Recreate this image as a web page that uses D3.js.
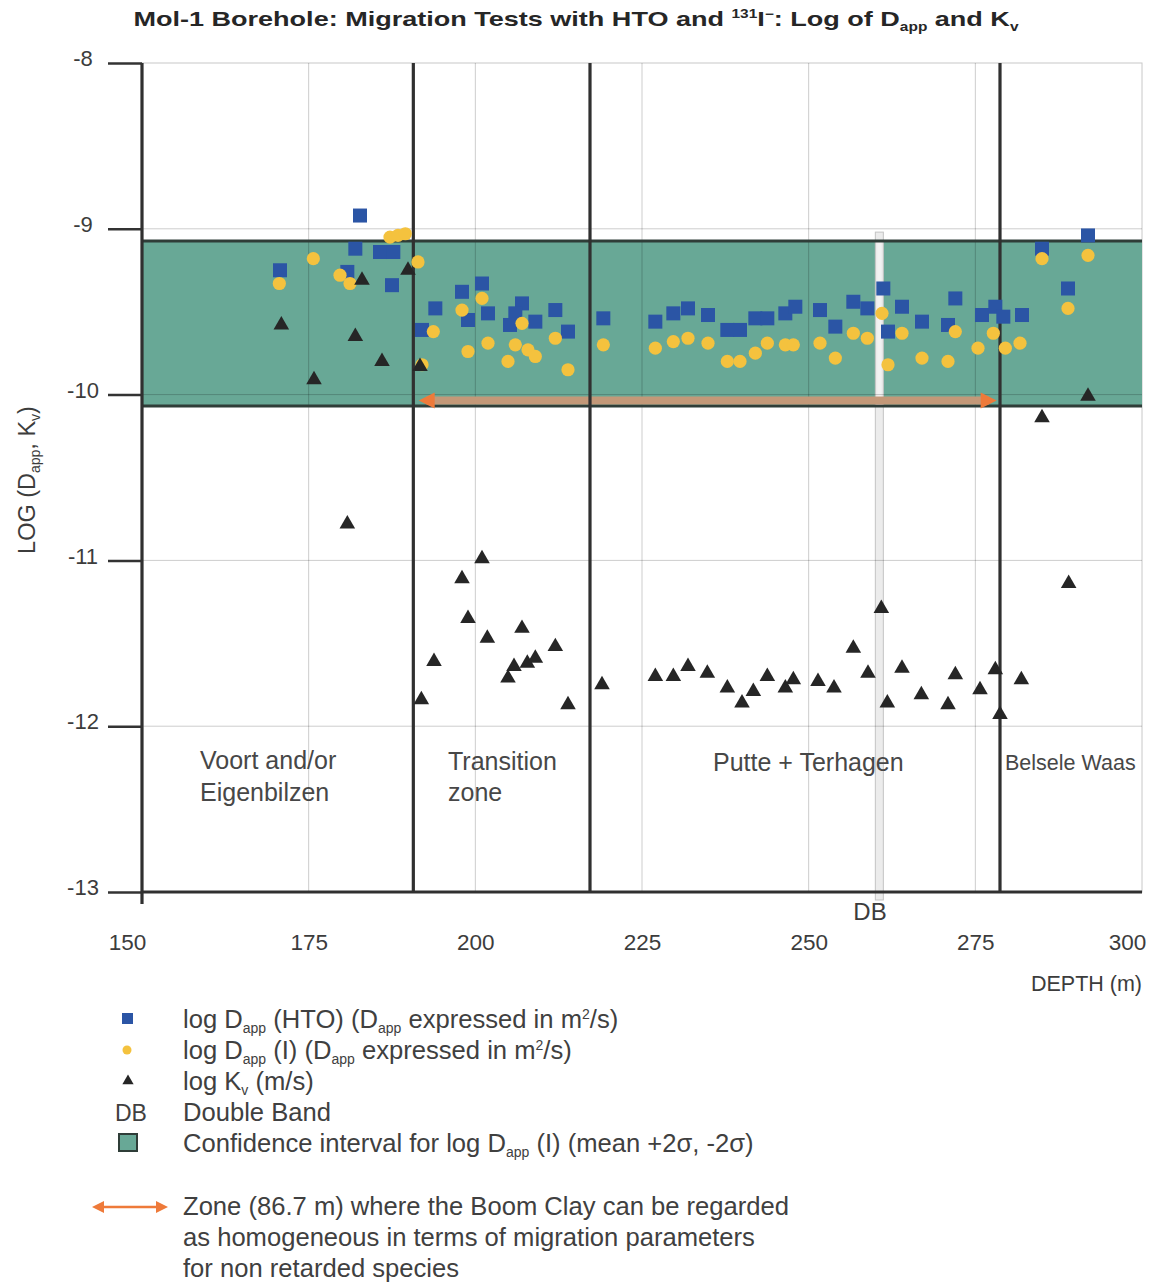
<!DOCTYPE html>
<html><head><meta charset="utf-8">
<script src="https://cdn.jsdelivr.net/npm/d3@7"></script>
<style>
body{margin:0;background:#fff}
text{font-family:"Liberation Sans",Arial,Helvetica,sans-serif}
</style>
</head><body>
<svg id="chart" width="1152" height="1283"></svg>
<script>
// ---------- DATA ----------
const xTicks = [150, 175, 200, 225, 250, 275, 300];
const yTicks = [-8, -9, -10, -11, -12, -13];

const htoDepth = [170.7,182.7,182.0,180.8,185.7,187.7,187.5,194.0,192.0,198.0,201.0,198.9,201.9,207.0,206.0,205.2,209.0,212.0,213.9,219.2,227.0,229.7,231.9,234.9,237.8,239.7,242.0,243.8,246.5,248.0,251.7,254.0,256.7,258.8,261.2,261.9,264.0,267.0,270.9,272.0,276.0,278.0,279.2,282.0,285.0,288.9,291.9];
const htoLog   = [-9.25,-8.92,-9.12,-9.26,-9.14,-9.14,-9.34,-9.48,-9.61,-9.38,-9.33,-9.55,-9.51,-9.45,-9.51,-9.58,-9.56,-9.49,-9.62,-9.54,-9.56,-9.51,-9.48,-9.52,-9.61,-9.61,-9.54,-9.54,-9.51,-9.47,-9.49,-9.59,-9.44,-9.48,-9.36,-9.62,-9.47,-9.56,-9.58,-9.42,-9.52,-9.47,-9.53,-9.52,-9.12,-9.36,-9.04];

const iDepth = [170.6,175.7,179.7,181.2,187.2,188.4,189.5,191.4,192.0,193.7,198.0,201.0,198.9,201.9,207.0,206.0,207.9,209.0,204.9,212.0,213.9,219.2,227.0,229.7,231.9,234.9,237.8,239.7,242.0,243.8,246.5,247.7,251.7,254.0,256.7,258.8,261.0,261.9,264.0,267.0,270.9,272.0,275.4,277.7,279.5,281.7,285.0,288.9,291.9];
const iLog   = [-9.33,-9.18,-9.28,-9.33,-9.05,-9.04,-9.03,-9.20,-9.82,-9.62,-9.49,-9.42,-9.74,-9.69,-9.57,-9.70,-9.73,-9.77,-9.80,-9.66,-9.85,-9.70,-9.72,-9.68,-9.66,-9.69,-9.80,-9.80,-9.75,-9.69,-9.70,-9.70,-9.69,-9.78,-9.63,-9.66,-9.51,-9.82,-9.63,-9.78,-9.80,-9.62,-9.72,-9.63,-9.72,-9.69,-9.18,-9.48,-9.16];

const kvDepth = [170.9,175.8,182.0,183.0,186.0,189.9,191.7,180.8,191.9,193.8,198.0,201.0,198.9,201.8,204.9,205.8,207.8,209.0,207.0,212.0,213.9,219.0,227.0,229.7,231.9,234.8,237.8,240.0,241.7,243.8,246.5,247.7,251.4,253.8,256.7,258.9,260.9,261.8,264.0,266.9,270.9,272.0,275.7,278.0,278.7,281.9,285.0,289.0,291.9];
const kvLog   = [-9.58,-9.91,-9.65,-9.31,-9.80,-9.25,-9.83,-10.78,-11.84,-11.61,-11.11,-10.99,-11.35,-11.47,-11.71,-11.64,-11.62,-11.59,-11.41,-11.52,-11.87,-11.75,-11.70,-11.70,-11.64,-11.68,-11.77,-11.86,-11.79,-11.70,-11.77,-11.72,-11.73,-11.77,-11.53,-11.68,-11.29,-11.86,-11.65,-11.81,-11.87,-11.69,-11.78,-11.66,-11.93,-11.72,-10.14,-11.14,-10.01];

const zoneBounds = [190.7, 217.2, 278.7];
const bandLimits = [-9.074, -10.069];      // confidence interval (mean +2σ, -2σ)
const homogeneousZone = [191.5, 278.2];    // 86.7 m
const doubleBand = [260.0, 261.2];

// ---------- CHART ----------
const svg = d3.select("#chart");
const x = d3.scaleLinear().domain([150, 300]).range([142, 1142]);
const y = d3.scaleLinear().domain([-13, -8]).range([892, 63]);

const BLUE = "#2b55a5", YELLOW = "#f4c23e", TRI = "#262626", BAND = "#68a896", BANDLINE = "#2f3d38", ORANGE = "#ee7a3a";
const TXT = "#3c3c3c";

// title
const title = svg.append("text").attr("x", 576).attr("y", 26).attr("text-anchor", "middle")
  .attr("font-size", 21).attr("font-weight", "bold").attr("fill", "#262626")
  .attr("textLength", 885).attr("lengthAdjust", "spacingAndGlyphs");
title.append("tspan").text("Mol-1 Borehole: Migration Tests with HTO and ");
title.append("tspan").text("131").attr("font-size", 12).attr("dy", -8);
title.append("tspan").text("I").attr("dy", 8);
title.append("tspan").text("−").attr("font-size", 12).attr("dy", -8);
title.append("tspan").text(": Log of D").attr("dy", 8);
title.append("tspan").text("app").attr("font-size", 12).attr("dy", 5);
title.append("tspan").text(" and K").attr("dy", -5);
title.append("tspan").text("v").attr("font-size", 12).attr("dy", 5);

// frame (top, right)
svg.append("rect").attr("x", x(150)).attr("y", y(-8)).attr("width", x(300) - x(150)).attr("height", y(-13) - y(-8))
  .attr("fill", "none").attr("stroke", "#c8c8c8").attr("stroke-width", 1);

// confidence band
svg.append("rect").attr("x", x(150)).attr("y", y(bandLimits[0]))
  .attr("width", x(300) - x(150)).attr("height", y(bandLimits[1]) - y(bandLimits[0]))
  .attr("fill", BAND);

// double band strip
svg.append("rect").attr("x", x(doubleBand[0])).attr("y", y(-9.02))
  .attr("width", x(doubleBand[1]) - x(doubleBand[0])).attr("height", y(-13) - y(-9.02) + 8)
  .attr("fill", "#ececec").attr("stroke", "#c4c4c4").attr("stroke-width", 1);
svg.append("rect").attr("x", x(doubleBand[0]) + 2).attr("y", y(bandLimits[0]))
  .attr("width", x(doubleBand[1]) - x(doubleBand[0]) - 4).attr("height", y(bandLimits[1]) - y(bandLimits[0]))
  .attr("fill", "#f4f4f4").attr("opacity", 0.8);

// grid
const grid = svg.append("g").attr("stroke", "#000").attr("stroke-opacity", 0.2).attr("stroke-width", 1);
grid.selectAll(".gv").data(xTicks.filter(d => d > 150 && d < 300)).join("line")
  .attr("x1", d => x(d)).attr("x2", d => x(d)).attr("y1", y(-8)).attr("y2", y(-13));
grid.selectAll(".gh").data(yTicks.filter(d => d > -13 && d < -8)).join("line")
  .attr("x1", x(150)).attr("x2", x(300)).attr("y1", d => y(d)).attr("y2", d => y(d));

// band borders
svg.selectAll(".bl").data(bandLimits).join("line")
  .attr("x1", x(150)).attr("x2", x(300)).attr("y1", d => y(d)).attr("y2", d => y(d))
  .attr("stroke", BANDLINE).attr("stroke-width", 3);

// homogeneous-zone arrow (on chart)
const ay = y(-10.035);
svg.append("line").attr("x1", x(homogeneousZone[0]) + 8).attr("x2", x(homogeneousZone[1]) - 8)
  .attr("y1", ay).attr("y2", ay).attr("stroke", "#c39878").attr("stroke-width", 8);
svg.append("path").attr("d", `M${x(homogeneousZone[0])},${ay} l16,-8 l0,16 z`).attr("fill", ORANGE);
svg.append("path").attr("d", `M${x(homogeneousZone[1])},${ay} l-16,-8 l0,16 z`).attr("fill", ORANGE);

// zone boundaries
svg.selectAll(".zb").data(zoneBounds).join("line")
  .attr("x1", d => x(d)).attr("x2", d => x(d)).attr("y1", y(-8)).attr("y2", y(-13))
  .attr("stroke", "#303030").attr("stroke-width", 3.2);

// axes
const yAxis = svg.append("g").attr("transform", `translate(${x(150)},0)`)
  .call(d3.axisLeft(y).tickValues(yTicks).tickFormat(d => String(d)).tickSize(34).tickPadding(0));
yAxis.select(".domain").remove();
yAxis.selectAll(".tick line").attr("stroke", "#333").attr("stroke-width", 2.5);
yAxis.selectAll(".tick text").attr("x", -59).attr("dy", "0.12em").attr("text-anchor", "middle")
  .attr("font-size", 22).attr("fill", TXT).style("font-family", "'Liberation Sans',Arial,sans-serif");
svg.append("line").attr("x1", x(150)).attr("x2", x(150)).attr("y1", y(-8)).attr("y2", y(-13) + 12)
  .attr("stroke", "#303030").attr("stroke-width", 3.2);
svg.append("line").attr("x1", x(150)).attr("x2", x(300)).attr("y1", y(-13)).attr("y2", y(-13))
  .attr("stroke", "#303030").attr("stroke-width", 3);

const xAxis = svg.append("g").attr("transform", `translate(0,${y(-13)})`)
  .call(d3.axisBottom(x).tickValues(xTicks).tickFormat(d3.format("d")).tickSize(0).tickPadding(58));
xAxis.select(".domain").remove();
xAxis.selectAll(".tick text").attr("font-size", 22.5).attr("fill", TXT).attr("dy", "0")
  .attr("dx", d => (d === 150 || d === 300) ? -15 : 0)
  .style("font-family", "'Liberation Sans',Arial,sans-serif");

svg.append("text").attr("x", 1142).attr("y", 991).attr("text-anchor", "end")
  .attr("font-size", 21.5).attr("fill", TXT).text("DEPTH (m)");

const yt = svg.append("text").attr("transform", "translate(35,480) rotate(-90)").attr("text-anchor", "middle")
  .attr("font-size", 23.5).attr("fill", TXT);
yt.append("tspan").text("LOG (D");
yt.append("tspan").text("app").attr("font-size", 14).attr("dy", 5);
yt.append("tspan").text(", K").attr("dy", -5);
yt.append("tspan").text("v").attr("font-size", 14).attr("dy", 5);
yt.append("tspan").text(")").attr("dy", -5);

// DB label
svg.append("text").attr("x", 870).attr("y", 920).attr("text-anchor", "middle")
  .attr("font-size", 24).attr("fill", TXT).text("DB");

// zone labels
const lab = svg.append("g").attr("font-size", 25).attr("fill", "#474747");
lab.append("text").attr("x", 200).attr("y", 769).text("Voort and/or");
lab.append("text").attr("x", 200).attr("y", 801).text("Eigenbilzen");
lab.append("text").attr("x", 448).attr("y", 770).text("Transition");
lab.append("text").attr("x", 448).attr("y", 801).text("zone");
lab.append("text").attr("x", 713).attr("y", 771).text("Putte + Terhagen");
lab.append("text").attr("x", 1005).attr("y", 770).attr("font-size", 21.5).text("Belsele Waas");

// data marks
const sq = 14;
svg.append("g").selectAll("rect").data(d3.zip(htoDepth, htoLog)).join("rect")
  .attr("x", d => x(d[0]) - sq / 2).attr("y", d => y(d[1]) - sq / 2)
  .attr("width", sq).attr("height", sq).attr("fill", BLUE);
svg.append("g").selectAll("circle").data(d3.zip(iDepth, iLog)).join("circle")
  .attr("cx", d => x(d[0])).attr("cy", d => y(d[1])).attr("r", 6.6).attr("fill", YELLOW);
svg.append("g").selectAll("path").data(d3.zip(kvDepth, kvLog)).join("path")
  .attr("transform", d => `translate(${x(d[0])},${y(d[1])})`)
  .attr("d", d3.symbol(d3.symbolTriangle, 105)).attr("fill", TRI);

// ---------- LEGEND ----------
const lg = svg.append("g").attr("font-size", 25.6).attr("fill", "#404040");
const SUB = 14;
lg.append("rect").attr("x", 122).attr("y", 1013).attr("width", 11).attr("height", 11).attr("fill", BLUE);
let t = lg.append("text").attr("x", 183).attr("y", 1028);
t.append("tspan").text("log D"); t.append("tspan").text("app").attr("font-size", SUB).attr("dy", 5);
t.append("tspan").text(" (HTO) (D").attr("dy", -5); t.append("tspan").text("app").attr("font-size", SUB).attr("dy", 5);
t.append("tspan").text(" expressed in m").attr("dy", -5); t.append("tspan").text("2").attr("font-size", SUB).attr("dy", -9);
t.append("tspan").text("/s)").attr("dy", 9);

lg.append("circle").attr("cx", 127).attr("cy", 1050).attr("r", 4.5).attr("fill", YELLOW);
t = lg.append("text").attr("x", 183).attr("y", 1059);
t.append("tspan").text("log D"); t.append("tspan").text("app").attr("font-size", SUB).attr("dy", 5);
t.append("tspan").text(" (I) (D").attr("dy", -5); t.append("tspan").text("app").attr("font-size", SUB).attr("dy", 5);
t.append("tspan").text(" expressed in m").attr("dy", -5); t.append("tspan").text("2").attr("font-size", SUB).attr("dy", -9);
t.append("tspan").text("/s)").attr("dy", 9);

lg.append("path").attr("transform", "translate(128,1081)").attr("d", d3.symbol(d3.symbolTriangle, 55)).attr("fill", TRI);
t = lg.append("text").attr("x", 183).attr("y", 1090);
t.append("tspan").text("log K"); t.append("tspan").text("v").attr("font-size", SUB).attr("dy", 5);
t.append("tspan").text(" (m/s)").attr("dy", -5);

lg.append("text").attr("x", 115).attr("y", 1121).attr("font-size", 23).text("DB");
lg.append("text").attr("x", 183).attr("y", 1121).text("Double Band");

lg.append("rect").attr("x", 119).attr("y", 1134).attr("width", 18).attr("height", 17)
  .attr("fill", BAND).attr("stroke", BANDLINE).attr("stroke-width", 2);
t = lg.append("text").attr("x", 183).attr("y", 1152);
t.append("tspan").text("Confidence interval for log D"); t.append("tspan").text("app").attr("font-size", SUB).attr("dy", 5);
t.append("tspan").text(" (I) (mean +2σ, -2σ)").attr("dy", -5);

// legend arrow
lg.append("line").attr("x1", 100).attr("x2", 160).attr("y1", 1207).attr("y2", 1207).attr("stroke", ORANGE).attr("stroke-width", 2.5);
lg.append("path").attr("d", "M92,1207 l12,-6 l0,12 z").attr("fill", ORANGE);
lg.append("path").attr("d", "M168,1207 l-12,-6 l0,12 z").attr("fill", ORANGE);
lg.append("text").attr("x", 183).attr("y", 1215).text("Zone (86.7 m) where the Boom Clay can be regarded");
lg.append("text").attr("x", 183).attr("y", 1246).text("as homogeneous in terms of migration parameters");
lg.append("text").attr("x", 183).attr("y", 1277).text("for non retarded species");
</script>
</body></html>
